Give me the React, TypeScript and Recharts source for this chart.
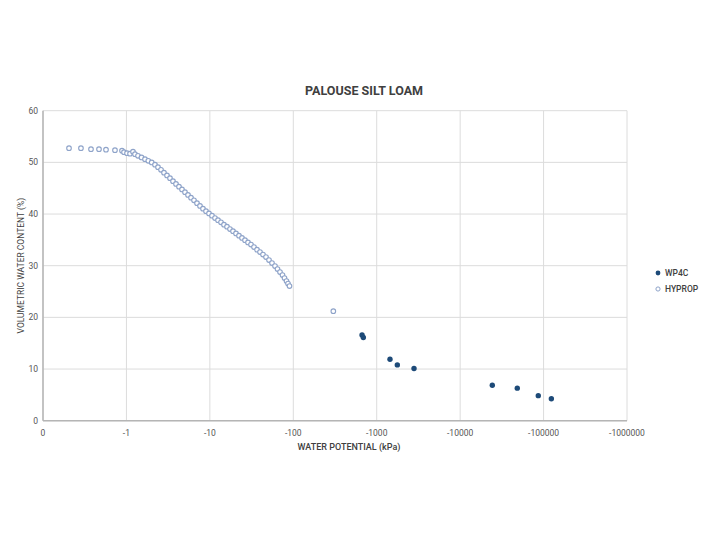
import { ScatterChart, Scatter, XAxis, YAxis, CartesianGrid, Label } from 'recharts';

// Water retention curve, Palouse silt loam
// HYPROP (tensiometer) points in the wet range, WP4C (dew point) in the dry range

const hypropPotential = [
  -0.205, -0.285, -0.376, -0.469, -0.569, -0.729, -0.885, -0.935, -1.016, -1.104,
  -1.199, -1.267, -1.376, -1.516, -1.67, -1.829, -2.009, -2.2, -2.39, -2.597,
  -2.82, -3.064, -3.328, -3.615, -3.928, -4.267, -4.636, -5.035, -5.47, -5.943,
  -6.455, -7.013, -7.616, -8.276, -8.992, -9.766, -10.61, -11.53, -12.52, -13.6,
  -14.77, -16.05, -17.43, -18.94, -20.57, -22.35, -24.28, -26.37, -28.65, -31.12,
  -33.81, -36.73, -39.9, -43.35, -47.09, -51.16, -55.57, -60.37, -64.68, -69.3,
  -74.25, -78.47, -82.91, -86.42, -90.08, -302,
];

const hypropVwc = [
  52.75, 52.75, 52.55, 52.55, 52.46, 52.36, 52.26, 51.97, 51.78, 51.68,
  52.07, 51.59, 51.26, 50.95, 50.62, 50.29, 49.98, 49.56, 49.07, 48.55,
  48.01, 47.47, 46.94, 46.36, 45.82, 45.3, 44.76, 44.24, 43.69, 43.17,
  42.65, 42.11, 41.57, 41.04, 40.56, 40.12, 39.69, 39.21, 38.82, 38.39,
  37.95, 37.56, 37.08, 36.69, 36.25, 35.82, 35.38, 34.95, 34.51, 34.08,
  33.6, 33.11, 32.63, 32.15, 31.66, 31.08, 30.5, 29.92, 29.34, 28.76,
  28.18, 27.6, 27.02, 26.54, 26.05, 21.2,
];

const wp4cPotential = [-667, -691, -1443, -1766, -2800, -24300, -48400, -86400, -124000];
const wp4cVwc = [16.6, 16.1, 11.9, 10.8, 10.1, 6.85, 6.3, 4.85, 4.25];

const xTicks = [0.1, 1, 10, 100, 1000, 10000, 100000, 1000000];
const yTicks = [0, 10, 20, 30, 40, 50, 60];

// log axis runs on suction (positive kPa), labels show the potential
const toPoints = (potential: number[], vwc: number[]) =>
  potential.map((p, i) => ({ suction: -p, vwc: vwc[i] }));

const hypropData = toPoints(hypropPotential, hypropVwc);
const wp4cData = toPoints(wp4cPotential, wp4cVwc);

const FONT = 'Roboto, "Noto Sans", sans-serif';
const WP4C_COLOR = '#1d4a78';
const HYPROP_COLOR = '#8ea3c9';

const OpenDot = (props: any) => (
  <circle cx={props.cx} cy={props.cy} r={2.3} fill="#fff" stroke={HYPROP_COLOR} strokeWidth={1.1} />
);

const FilledDot = (props: any) => (
  <circle cx={props.cx} cy={props.cy} r={2.7} fill={WP4C_COLOR} />
);

// legend sits to the right of the plot, outside the chart margins
const LegendBox = () => (
  <div
    style={{
      position: 'absolute',
      left: 654,
      top: 265,
      fontFamily: FONT,
      fontSize: 8.5,
      fontWeight: 500,
      color: '#404040',
      lineHeight: '16px',
    }}
  >
    <div style={{ display: 'flex', alignItems: 'center' }}>
      <svg width={8} height={8} style={{ marginRight: 3 }}>
        <circle cx={4} cy={4} r={2.4} fill={WP4C_COLOR} />
      </svg>
      WP4C
    </div>
    <div style={{ display: 'flex', alignItems: 'center' }}>
      <svg width={8} height={8} style={{ marginRight: 3 }}>
        <circle cx={4} cy={4} r={2.1} fill="#fff" stroke={HYPROP_COLOR} strokeWidth={1} />
      </svg>
      HYPROP
    </div>
  </div>
);

export default function App() {
  const tickStyle = { fontFamily: FONT, fontSize: 8.5, fill: '#555' };
  return (
    <div style={{ position: 'absolute', left: 0, top: 0, width: 720, height: 540, background: '#fff' }}>
      <div
        style={{
          position: 'absolute',
          top: 83,
          left: 0,
          width: 728,
          textAlign: 'center',
          fontFamily: FONT,
          fontSize: 12.5,
          fontWeight: 700,
          color: '#404040',
        }}
      >
        PALOUSE SILT LOAM
      </div>
      <ScatterChart width={720} height={540} margin={{ top: 110.7, right: 93, bottom: 89.3, left: 13 }}>
        <CartesianGrid stroke="#dcdcdc" strokeWidth={1} />
        <XAxis
          type="number"
          dataKey="suction"
          scale="log"
          domain={[0.1, 1000000]}
          ticks={xTicks}
          allowDataOverflow
          tickFormatter={(v: number) => (v < 1 ? '0' : `-${v}`)}
          tick={tickStyle}
          tickLine={false}
          tickSize={6}
          tickMargin={3}
          axisLine={{ stroke: '#b5b5b5', strokeWidth: 1.5 }}
          height={30}
        >
          <Label
            value="WATER POTENTIAL (kPa)"
            position="insideBottom"
            offset={1}
            dx={14}
            style={{ fontFamily: FONT, fontSize: 9, fontWeight: 500, fill: '#404040' }}
          />
        </XAxis>
        <YAxis
          type="number"
          dataKey="vwc"
          domain={[0, 60]}
          ticks={yTicks}
          tick={tickStyle}
          tickLine={false}
          tickSize={3}
          axisLine={{ stroke: '#b5b5b5', strokeWidth: 1.5 }}
          width={30}
        >
          <Label
            content={({ viewBox }: any) => {
              const cx = viewBox.x + 8;
              const cy = viewBox.y + viewBox.height / 2;
              return (
                <text
                  x={cx}
                  y={cy}
                  transform={`rotate(-90 ${cx} ${cy})`}
                  textAnchor="middle"
                  dominantBaseline="central"
                  style={{ fontFamily: FONT, fontSize: 8.5, fill: '#404040' }}
                >
                  VOLUMETRIC WATER CONTENT (%)
                </text>
              );
            }}
          />
        </YAxis>
        <Scatter name="WP4C" data={wp4cData} shape={FilledDot} isAnimationActive={false} />
        <Scatter name="HYPROP" data={hypropData} shape={OpenDot} isAnimationActive={false} />
      </ScatterChart>
      <LegendBox />
    </div>
  );
}
